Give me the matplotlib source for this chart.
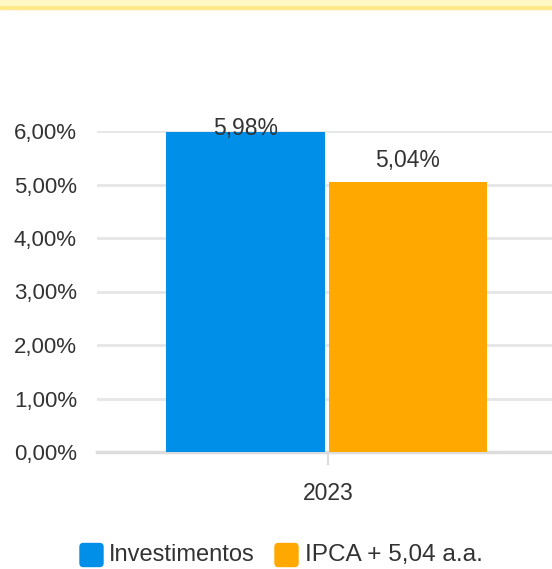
import matplotlib
matplotlib.use("Agg")
import matplotlib.pyplot as plt
from matplotlib.patches import FancyBboxPatch, Rectangle

categories = ["2023"]
series_names = ["Investimentos", "IPCA + 5,04 a.a."]
series_values = [5.98, 5.04]
value_labels = ["5,98%", "5,04%"]
yticks = [0, 1, 2, 3, 4, 5, 6]
ytick_labels = ["0,00%", "1,00%", "2,00%", "3,00%", "4,00%", "5,00%", "6,00%"]
colors = ["#008FE8", "#FFA800"]

plt.rcParams["font.family"] = ["Liberation Sans", "DejaVu Sans"]
TXT = "#333333"

W, H = 552, 569
fig = plt.figure(figsize=(W / 100, H / 100), dpi=100)

# top yellow band
fig.patches.append(Rectangle((0, 1 - 7 / H), 1, 7 / H, transform=fig.transFigure,
                             color="#FFF8C4", zorder=0))
fig.patches.append(Rectangle((0, 1 - 9 / H), 1, 3 / H, transform=fig.transFigure,
                             color="#FFE98A", zorder=0))

# axes: x 97..559 px, y 131 (6%) .. 452 (0%)
ax_l, ax_r = 97, 559
y0, y6 = 452, 131
ax = fig.add_axes([ax_l / W, (H - y0) / H, (ax_r - ax_l) / W, (y0 - y6) / H])
ax.set_xlim(-0.5, 0.5)
ax.set_ylim(0, 6)

bar_w = 0.343
offsets = [-0.179, 0.173]
for i, (v, c) in enumerate(zip(series_values, colors)):
    ax.bar(offsets[i], v, width=bar_w, color=c, zorder=3)

# value labels
ax.text(offsets[0], series_values[0] + 0.06, value_labels[0], ha="center", va="center",
        fontsize=16.5, color=TXT, zorder=4)
ax.text(offsets[1], series_values[1] + 0.4, value_labels[1], ha="center", va="center",
        fontsize=16.5, color=TXT, zorder=4)

ax.set_yticks(yticks)
ax.set_yticklabels(ytick_labels, fontsize=16, color=TXT)
ax.tick_params(axis="y", length=0, pad=14.4)
ax.grid(axis="y", color="#E6E6E6", linewidth=2, zorder=0)
ax.set_axisbelow(True)

ax.set_xticks([0])
ax.set_xticklabels(categories, fontsize=16.5, color=TXT)
ax.tick_params(axis="x", length=9.5, width=1.2, color="#D5D5D5", pad=12)

for s in ["top", "right", "left"]:
    ax.spines[s].set_visible(False)
ax.spines["bottom"].set_color("#DCDCDC")
ax.spines["bottom"].set_linewidth(2.5)

# legend (manual, rounded squares)
leg_y = (H - 555) / H
sq_w, sq_h = 23 / W, 23 / H
items = [(80, 109), (275, 305)]
sizes = [17, 17.6]
for (sx, tx), name, c, fs in zip(items, series_names, colors, sizes):
    fig.patches.append(FancyBboxPatch((sx / W, leg_y - sq_h / 2), sq_w, sq_h,
                                      boxstyle="round,pad=0,rounding_size=0.006",
                                      transform=fig.transFigure, color=c))
    fig.text(tx / W, leg_y, name, ha="left", va="center", fontsize=fs, color=TXT)

fig.savefig("out.png", dpi=100)
